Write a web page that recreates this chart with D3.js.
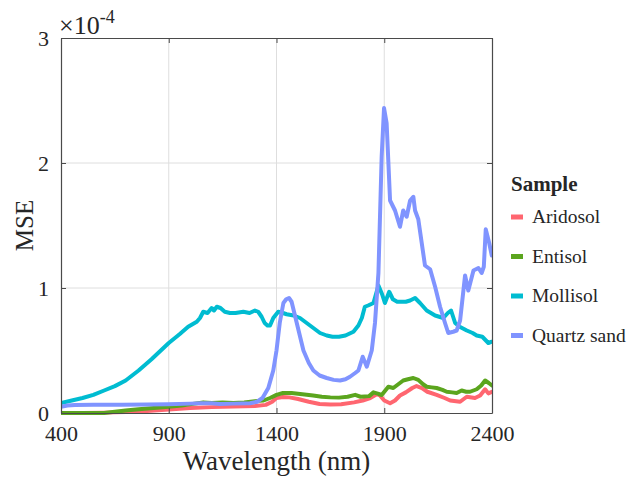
<!DOCTYPE html>
<html>
<head>
<meta charset="utf-8">
<script src="https://cdn.jsdelivr.net/npm/d3@7"></script>
<style>
  html, body { margin: 0; padding: 0; background: #fff; }
  svg { display: block; }
  text { font-family: "Liberation Serif", "Times New Roman", serif; fill: #262626; }
</style>
</head>
<body>
<svg id="chart" width="631" height="477"></svg>
<script>
// Wavelength (nm) and MSE (x1e-4) for each soil sample
const aridosolWl = [400, 500, 600, 700, 800, 900, 1000, 1100, 1200, 1300, 1350, 1380, 1400, 1430, 1460, 1500, 1550, 1600, 1650, 1700, 1760, 1800, 1835, 1865, 1880, 1900, 1927, 1950, 1973, 2000, 2030, 2050, 2075, 2100, 2143, 2180, 2206, 2252, 2283, 2321, 2345, 2368, 2383, 2400];
const aridosolMse = [0.0, 0.0, 0.003, 0.008, 0.015, 0.028, 0.04, 0.047, 0.052, 0.056, 0.065, 0.09, 0.12, 0.128, 0.125, 0.112, 0.09, 0.072, 0.068, 0.07, 0.085, 0.1, 0.12, 0.15, 0.14, 0.1, 0.078, 0.1, 0.14, 0.165, 0.2, 0.216, 0.2, 0.17, 0.145, 0.12, 0.1, 0.09, 0.13, 0.12, 0.14, 0.19, 0.157, 0.17];

const entisolWl = [400, 500, 600, 650, 700, 760, 830, 900, 960, 1020, 1060, 1100, 1150, 1200, 1250, 1300, 1340, 1370, 1400, 1430, 1470, 1520, 1570, 1610, 1650, 1690, 1730, 1765, 1790, 1830, 1850, 1870, 1888, 1905, 1919, 1942, 1965, 1988, 2010, 2035, 2058, 2080, 2097, 2120, 2143, 2170, 2190, 2215, 2236, 2259, 2280, 2298, 2329, 2350, 2368, 2385, 2400];
const entisolMse = [0.0, 0.0, 0.0, 0.01, 0.02, 0.03, 0.04, 0.05, 0.06, 0.075, 0.085, 0.08, 0.085, 0.08, 0.085, 0.095, 0.1, 0.12, 0.145, 0.16, 0.16, 0.15, 0.14, 0.13, 0.125, 0.123, 0.13, 0.145, 0.13, 0.135, 0.165, 0.155, 0.144, 0.18, 0.21, 0.2, 0.23, 0.26, 0.27, 0.28, 0.265, 0.23, 0.21, 0.205, 0.2, 0.185, 0.17, 0.165, 0.16, 0.18, 0.17, 0.17, 0.19, 0.22, 0.26, 0.24, 0.22];

const mollisolWl = [400, 450, 500, 550, 600, 650, 700, 760, 820, 900, 950, 990, 1030, 1045, 1060, 1080, 1099, 1110, 1123, 1140, 1160, 1184, 1210, 1246, 1275, 1300, 1315, 1331, 1345, 1358, 1370, 1385, 1408, 1430, 1447, 1480, 1509, 1540, 1571, 1602, 1633, 1660, 1690, 1720, 1757, 1780, 1796, 1810, 1825, 1850, 1873, 1890, 1903, 1923, 1940, 1960, 2000, 2020, 2043, 2066, 2097, 2136, 2174, 2195, 2210, 2229, 2250, 2283, 2310, 2329, 2355, 2383, 2399];
const mollisolMse = [0.08, 0.1, 0.12, 0.145, 0.18, 0.215, 0.26, 0.34, 0.43, 0.56, 0.63, 0.69, 0.73, 0.76, 0.81, 0.8, 0.84, 0.82, 0.85, 0.84, 0.81, 0.8, 0.8, 0.81, 0.8, 0.82, 0.81, 0.77, 0.72, 0.7, 0.7, 0.76, 0.81, 0.8, 0.79, 0.78, 0.76, 0.72, 0.68, 0.64, 0.62, 0.61, 0.61, 0.62, 0.65, 0.7, 0.76, 0.85, 0.86, 0.88, 1.02, 0.95, 0.88, 0.97, 0.91, 0.89, 0.89, 0.9, 0.92, 0.88, 0.82, 0.78, 0.76, 0.8, 0.82, 0.72, 0.69, 0.66, 0.64, 0.62, 0.61, 0.56, 0.57];

const quartzWl = [400, 430, 465, 550, 682, 800, 897, 1000, 1045, 1099, 1138, 1200, 1277, 1310, 1335, 1362, 1385, 1400, 1415, 1432, 1445, 1458, 1470, 1494, 1525, 1550, 1571, 1600, 1633, 1665, 1695, 1720, 1741, 1765, 1780, 1800, 1819, 1842, 1857, 1873, 1888, 1899, 1911, 1927, 1950, 1973, 1988, 2004, 2020, 2035, 2043, 2058, 2089, 2113, 2136, 2159, 2182, 2197, 2220, 2236, 2252, 2275, 2290, 2314, 2337, 2352, 2362, 2371, 2387, 2399];
const quartzMse = [0.05, 0.06, 0.064, 0.066, 0.066, 0.068, 0.07, 0.075, 0.078, 0.078, 0.072, 0.075, 0.078, 0.09, 0.12, 0.2, 0.34, 0.5, 0.72, 0.88, 0.91, 0.92, 0.89, 0.72, 0.5, 0.4, 0.34, 0.3, 0.28, 0.265, 0.26, 0.27, 0.29, 0.32, 0.34, 0.45, 0.37, 0.5, 0.72, 1.12, 2.05, 2.44, 2.32, 1.7, 1.62, 1.49, 1.62, 1.57, 1.7, 1.73, 1.62, 1.55, 1.18, 1.15, 1.01, 0.85, 0.72, 0.64, 0.65, 0.66, 0.74, 1.1, 0.98, 1.14, 1.16, 1.12, 1.17, 1.47, 1.36, 1.26];

const sampleNames = ["Aridosol", "Entisol", "Mollisol", "Quartz sand"];
const sampleColors = ["#FF6670", "#5BA51E", "#00BCD1", "#8094FF"];
const xTicks = [400, 900, 1400, 1900, 2400];
const yTicks = [0, 1, 2, 3];

const series = [
  { name: sampleNames[0], color: sampleColors[0], wl: aridosolWl, mse: aridosolMse },
  { name: sampleNames[1], color: sampleColors[1], wl: entisolWl, mse: entisolMse },
  { name: sampleNames[2], color: sampleColors[2], wl: mollisolWl, mse: mollisolMse },
  { name: sampleNames[3], color: sampleColors[3], wl: quartzWl, mse: quartzMse }
];

const margin = { left: 61, top: 38, right: 139, bottom: 64 };
const W = 631, H = 477;
const iw = W - margin.left - margin.right;
const ih = H - margin.top - margin.bottom;

const svg = d3.select("#chart");
const g = svg.append("g").attr("transform", `translate(${margin.left},${margin.top})`);

const x = d3.scaleLinear().domain([400, 2400]).range([0, iw]);
const y = d3.scaleLinear().domain([0, 3]).range([ih, 0]);

// grid
g.append("g").selectAll("line").data(xTicks.slice(1, -1)).join("line")
  .attr("x1", d => x(d)).attr("x2", d => x(d)).attr("y1", 0).attr("y2", ih)
  .attr("stroke", "#dedede").attr("stroke-width", 1);
g.append("g").selectAll("line").data(yTicks.slice(1, -1)).join("line")
  .attr("y1", d => y(d)).attr("y2", d => y(d)).attr("x1", 0).attr("x2", iw)
  .attr("stroke", "#dedede").attr("stroke-width", 1);

// lines
const line = d3.line().x(d => x(d[0])).y(d => y(d[1]));
const clipId = "plotclip";
g.append("clipPath").attr("id", clipId).append("rect")
  .attr("x", 0).attr("y", 0).attr("width", iw).attr("height", ih + 2);
g.append("g").attr("clip-path", `url(#${clipId})`)
  .selectAll("path").data(series).join("path")
  .attr("d", s => line(s.wl.map((w, i) => [w, s.mse[i]])))
  .attr("fill", "none").attr("stroke", s => s.color)
  .attr("stroke-width", 4).attr("stroke-linejoin", "round").attr("stroke-linecap", "round");

// axes (ticks point inward, box on all sides)
const axisColor = "#4a4a4a";
const xAxis = g.append("g").attr("transform", `translate(0,${ih})`)
  .call(d3.axisBottom(x).tickValues(xTicks).tickFormat(d3.format("d")).tickSizeInner(-5).tickSizeOuter(0).tickPadding(12));
const yAxis = g.append("g")
  .call(d3.axisLeft(y).tickValues(yTicks).tickFormat(d3.format("d")).tickSizeInner(-5).tickSizeOuter(0).tickPadding(12));
const xTop = g.append("g")
  .call(d3.axisTop(x).tickValues(xTicks).tickSizeInner(-5).tickSizeOuter(0).tickFormat(""));
const yRight = g.append("g").attr("transform", `translate(${iw},0)`)
  .call(d3.axisRight(y).tickValues(yTicks).tickSizeInner(-5).tickSizeOuter(0).tickFormat(""));
[xAxis, yAxis, xTop, yRight].forEach(a => {
  a.select(".domain").attr("stroke", axisColor).attr("stroke-width", 1.2);
  a.selectAll(".tick line").attr("stroke", axisColor);
  a.selectAll("text").attr("font-family", "Liberation Serif").attr("font-size", 22).attr("fill", "#262626");
});

// exponent label
const expo = svg.append("text").attr("x", 59).attr("y", 34).attr("font-size", 26);
expo.append("tspan").text("×10");
expo.append("tspan").attr("dy", -11).attr("font-size", 18).text("-4");

// axis titles
svg.append("text").attr("x", margin.left + iw / 2).attr("y", 470)
  .attr("text-anchor", "middle").attr("font-size", 27).text("Wavelength (nm)");
svg.append("text").attr("transform", `translate(33,${margin.top + ih / 2}) rotate(-90)`)
  .attr("text-anchor", "middle").attr("font-size", 25).text("MSE");

// legend
const lg = svg.append("g").attr("transform", "translate(511,0)");
lg.append("text").attr("x", 0).attr("y", 191).attr("font-size", 21).attr("font-weight", "bold").text("Sample");
const item = lg.selectAll("g.item").data(series).join("g").attr("class", "item")
  .attr("transform", (d, i) => `translate(0,${217 + i * 39.5})`);
item.append("line").attr("x1", 0).attr("x2", 12).attr("y1", 0).attr("y2", 0)
  .attr("stroke", d => d.color).attr("stroke-width", 5);
item.append("text").attr("x", 21).attr("y", 6).attr("font-size", 19.5).text(d => d.name);
</script>
</body>
</html>
